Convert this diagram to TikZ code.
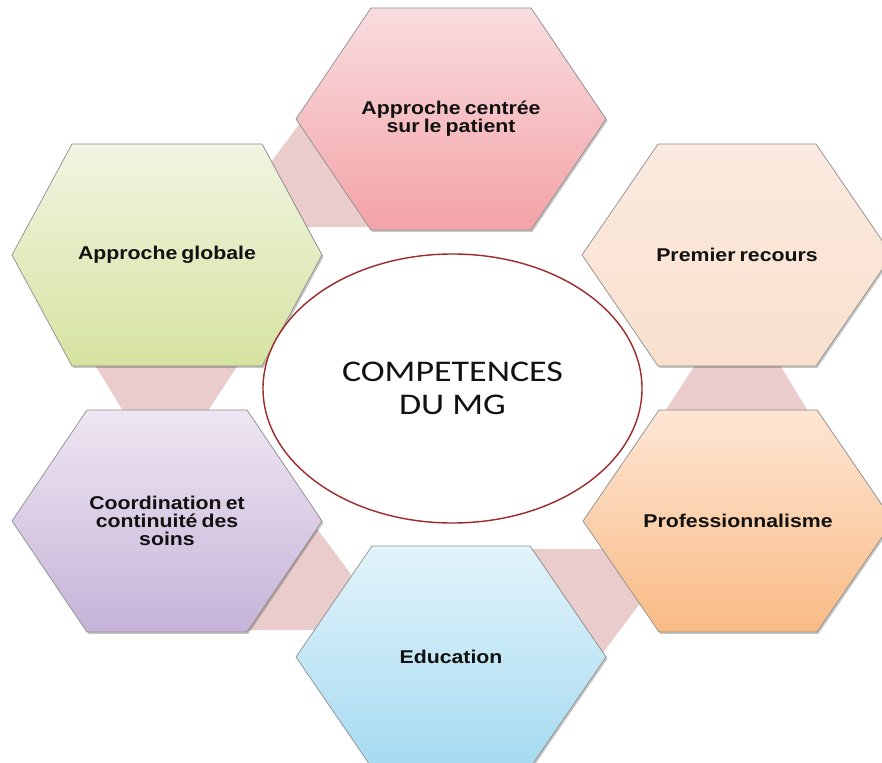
\documentclass[tikz,border=0pt]{standalone}
\usepackage{fontspec}
\setmainfont{Liberation Sans}
\newfontfamily\hexfont{Liberation Sans}[FakeStretch=1.15,WordSpace=0.7]
\newfontfamily\ellfont{Carlito}[FakeStretch=1.2]
\usetikzlibrary{shapes.geometric}
\definecolor{conn}{HTML}{E9CCCB}
\definecolor{hexline}{HTML}{8E8E8E}
\definecolor{ellred}{HTML}{9E2A2B}
\definecolor{aTop}{HTML}{F9DDE0}\definecolor{aBot}{HTML}{F3A3A7}
\definecolor{bTop}{HTML}{F1F5E2}\definecolor{bBot}{HTML}{D5E3A0}
\definecolor{cTop}{HTML}{FBEAE0}\definecolor{cBot}{HTML}{F9E0CD}
\definecolor{dTop}{HTML}{EEE6F2}\definecolor{dBot}{HTML}{C6B3D8}
\definecolor{eTop}{HTML}{FDE6D4}\definecolor{eBot}{HTML}{F9BB85}
\definecolor{fTop}{HTML}{E3F4FB}\definecolor{fBot}{HTML}{A5DAF0}
\definecolor{txt}{HTML}{111111}
\tikzset{
  hextext/.style={font=\hexfont\bfseries\fontsize{18.5}{18}\selectfont, align=center, text=txt, inner sep=0pt},
  connband/.style={fill=conn, draw=none},
  hexshadow/.style={fill=black, opacity=0.22},
  hexborder/.style={draw=hexline, line width=0.7pt},
  centreell/.style={ellipse, draw=ellred, line width=1.4pt, fill=white,
    minimum width=379pt, minimum height=269pt, inner sep=0pt, align=center,
    font=\ellfont\fontsize{30}{32.5}\selectfont, text=txt}
}
% name, cx, cy, top half-width, top colour, bottom colour, text
\newcommand{\hexnode}[7]{%
  \fill[hexshadow] (#2-155+1.5,#3+1.8) -- (#2-#4+1.5,#3-111+1.8) -- (#2+#4+1.5,#3-111+1.8) -- (#2+155+1.5,#3+1.8) -- (#2+#4+1.5,#3+111+1.8) -- (#2-#4+1.5,#3+111+1.8) -- cycle;
  \shade[top color=#5, bottom color=#6, hexborder] (#2-155,#3) -- (#2-#4,#3-111) -- (#2+#4,#3-111) -- (#2+155,#3) -- (#2+#4,#3+111) -- (#2-#4,#3+111) -- cycle;
  \node[hextext] (#1) at (#2,#3) {#7};
}
\begin{document}
\begin{tikzpicture}[x=1pt,y=-1pt]
\useasboundingbox (0,0) rectangle (882,762);
\clip (0,0) rectangle (882,762);
\fill[white] (0,0) rectangle (882,762);
% connector bands (behind the hexagons)
\fill[connband] (250,190) -- (310,110) -- (400,227) -- (290,227) -- cycle;
\fill[connband] (89,355) -- (244.5,355) -- (202,420) -- (128.5,420) -- cycle;
\fill[connband] (305,512.5) -- (370,600) -- (360,630) -- (230,630) -- cycle;
\fill[connband] (653,586) -- (593,666) -- (503,549) -- (613,549) -- cycle;
\fill[connband] (814,421) -- (658.5,421) -- (701,356) -- (774.5,356) -- cycle;
% hexagons
\hexnode{patient}{451}{119}{80}{aTop}{aBot}{Approche centrée\\sur le patient}
\hexnode{globale}{167}{255}{95}{bTop}{bBot}{Approche globale}
\hexnode{recours}{737}{255}{79}{cTop}{cBot}{Premier recours}
\hexnode{coord}{167}{521}{80}{dTop}{dBot}{Coordination et\\continuité des\\soins}
\hexnode{prof}{738}{521}{79}{eTop}{eBot}{Professionnalisme}
\hexnode{educ}{451}{657}{79}{fTop}{fBot}{Education}
% centre
\node[centreell] (centre) at (452.5,388.5) {COMPETENCES\\DU MG};
\end{tikzpicture}
\end{document}
